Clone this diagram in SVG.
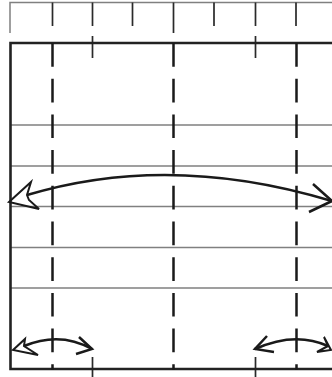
<svg xmlns="http://www.w3.org/2000/svg" width="332" height="377" viewBox="0 0 332 377">
<style>
.g{stroke:#808080;stroke-width:1.5;fill:none}
.t{stroke:#2a2a2a;stroke-width:1.7;fill:none}
.b{stroke:#222;stroke-width:2.6;fill:none}
.d{stroke:#1a1a1a;stroke-width:2.5;fill:none;stroke-dasharray:23.7 12}
.a{stroke:#1a1a1a;stroke-width:2.5;fill:none}
.h{stroke:#1a1a1a;stroke-width:2;fill:none}
</style>
<rect width="332" height="377" fill="#fff"/>
<g id="ruler">
<path class="g" d="M10 33V2.500H332"/>
<path class="t" d="M52.500 2.500V26M92.500 2.500V26M132.500 2.500V26M173.500 2.500V33M214 2.500V26M255.500 2.500V26M296 2.500V26"/>
<path class="t" d="M92.500 36V58M255.500 36V58M92.500 357V377M255.500 357V377"/>
</g>
<g id="grid">
<path class="g" d="M10 125H332M10 166H332M10 206.500H332M10 247.500H332M10 288H332"/>
</g>
<g id="frame">
<path class="b" d="M332 43H10.500V369H332"/>
</g>
<g id="connectors">
<path class="d" d="M52.500 43V370M173.500 43V370M296.500 43V370"/>
<path class="a" d="M27 195Q170 152 332 201"/>
<path class="h" d="M9 202L31 182L27 195L29 200L39 209Z"/>
<path class="a" d="M313 184L332 201L309 212"/>
<path class="a" d="M24 346Q60 331 92 349"/>
<path class="h" d="M13 350L25 339L24 346L38 355Z"/>
<path class="a" d="M79 337L92 349L76 354"/>
<path class="a" d="M255 349Q295 331 328 346"/>
<path class="a" d="M267 336L255 349L274 352"/>
<path class="h" d="M331 350L324 337L328 346L317 352Z"/>
</g>
</svg>
